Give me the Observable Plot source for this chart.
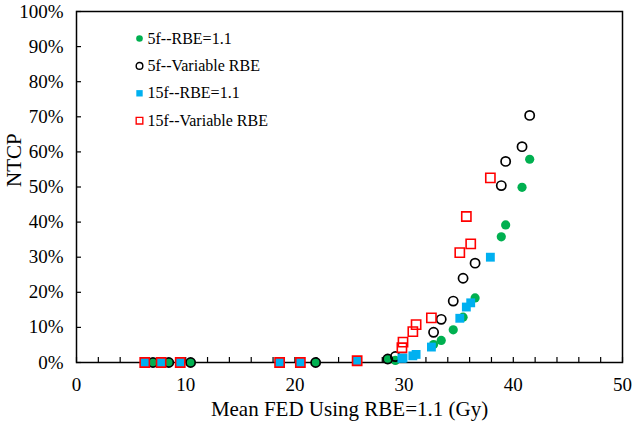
<!DOCTYPE html>
<html>
<head>
<meta charset="utf-8">
<script src="https://cdn.jsdelivr.net/npm/d3@7"></script>
<script src="https://cdn.jsdelivr.net/npm/@observablehq/plot@0.6"></script>
<style>
  html, body { margin: 0; padding: 0; background: #fff; }
  #chart svg { display: block; }
</style>
</head>
<body>
<div id="chart"></div>
<script>
// Data (NTCP in %, x = mean FED using RBE=1.1 in Gy)
const x5 = [7.0, 8.45, 10.45, 21.9, 28.5, 29.2, 32.7, 33.4, 34.5, 35.4, 36.5, 38.9, 39.3, 40.8, 41.5];
const ntcp5Fixed = [0, 0, 0, 0, 0.9, 0.6, 5.1, 6.3, 9.3, 12.9, 18.4, 35.8, 39.2, 49.9, 57.9];
const ntcp5Var = [0, 0, 0, 0, 1.0, 1.7, 8.6, 12.3, 17.5, 24.0, 28.3, 50.4, 57.3, 61.5, 70.4];
const x15 = [6.25, 7.75, 9.5, 18.6, 20.5, 25.7, 29.8, 29.9, 30.8, 31.1, 32.5, 35.1, 35.7, 36.1, 37.9];
const ntcp15Fixed = [0, 0, 0, 0, 0, 0.3, 1.2, 1.3, 1.9, 2.3, 4.4, 12.6, 15.8, 17.0, 30.0];
const ntcp15Var = [0, 0, 0, 0, 0, 0.5, 4.2, 5.8, 8.8, 10.8, 12.7, 31.3, 41.6, 33.8, 52.6];

const seriesNames = ["5f--RBE=1.1", "5f--Variable RBE", "15f--RBE=1.1", "15f--Variable RBE"];
const xTickLabels = [0, 10, 20, 30, 40, 50];
const xMinorTicks = d3.range(0, 51, 2);
const yTickLabels = [0, 10, 20, 30, 40, 50, 60, 70, 80, 90, 100];
const xTitle = "Mean FED Using RBE=1.1 (Gy)";
const yTitle = "NTCP";

const toRows = (xs, ys) => xs.map((x, i) => ({x, y: ys[i]}));
const green = "#00B050", blue = "#00B0F0", red = "#FF0000", black = "#000000";

const styles = [
  {symbol: "circle", fill: green, stroke: "none", r: 4.6, strokeWidth: 0},
  {symbol: "circle", fill: "none", stroke: black, r: 4.6, strokeWidth: 1.7},
  {symbol: "square", fill: blue, stroke: "none", r: 5.0, strokeWidth: 0},
  {symbol: "square", fill: "none", stroke: red, r: 5.2, strokeWidth: 1.6}
];
const datasets = [toRows(x5, ntcp5Fixed), toRows(x5, ntcp5Var), toRows(x15, ntcp15Fixed), toRows(x15, ntcp15Var)];

const legendMarks = seriesNames.flatMap((name, i) => {
  const s = styles[i];
  const dy = 27 + i * 27.4;
  return [
    Plot.dot([name], {frameAnchor: "top-left", dx: 63, dy, symbol: s.symbol, fill: s.fill, stroke: s.stroke,
      r: s.r * 0.72, strokeWidth: s.strokeWidth * 0.85}),
    Plot.text([name], {frameAnchor: "top-left", dx: 71, dy, text: d => d, textAnchor: "start",
      lineAnchor: "middle", fontSize: 16, fill: black})
  ];
});

const chart = Plot.plot({
  width: 634,
  height: 421,
  marginLeft: 76,
  marginRight: 12,
  marginTop: 11,
  marginBottom: 59,
  style: {fontFamily: "'Liberation Serif', 'Times New Roman', serif", fontSize: "19px", background: "#fff", color: "#000"},
  x: {domain: [0, 50]},
  y: {domain: [0, 100]},
  marks: [
    Plot.axisX(xTickLabels, {tickSize: 0, tickPadding: 15, tickFormat: d => String(d), fontSize: 19, label: null}),
    Plot.axisX(xMinorTicks, {tickSize: -5, tickFormat: () => "", label: null, strokeWidth: 1.2}),
    Plot.axisY(yTickLabels, {tickSize: 0, tickPadding: 13, tickFormat: d => d + "%", fontSize: 19, label: null}),
    Plot.axisY(yTickLabels, {tickSize: -5, tickFormat: () => "", label: null, strokeWidth: 1.2}),
    Plot.frame({stroke: black, strokeWidth: 1.5}),
    Plot.text([xTitle], {frameAnchor: "bottom", dy: 47, text: d => d, fontSize: 21, lineAnchor: "middle", fill: black}),
    Plot.text([yTitle], {frameAnchor: "left", dx: -62, rotate: -90, text: d => d, fontSize: 21, lineAnchor: "middle", fill: black}),
    ...datasets.map((data, i) => Plot.dot(data, {
      x: "x", y: "y", symbol: styles[i].symbol, fill: styles[i].fill, stroke: styles[i].stroke,
      r: styles[i].r, strokeWidth: styles[i].strokeWidth
    })),
    ...legendMarks
  ]
});
document.getElementById("chart").appendChild(chart);
</script>
</body>
</html>
